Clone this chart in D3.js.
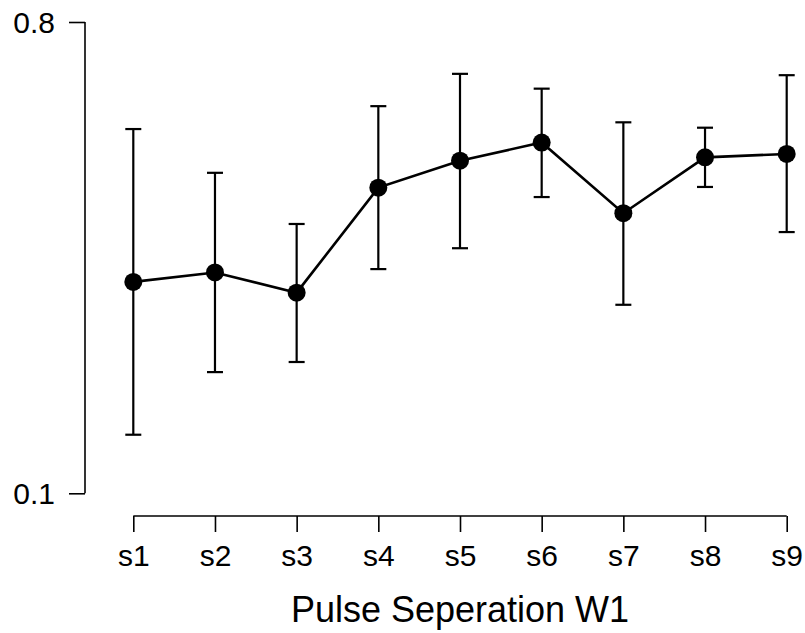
<!DOCTYPE html>
<html>
<head>
<meta charset="utf-8">
<script src="https://cdn.jsdelivr.net/npm/d3@7"></script>
<style>
  body { margin: 0; background: #fff; }
  text { font-family: "Liberation Sans", Arial, sans-serif; fill: #000; }
</style>
</head>
<body>
<div id="chart"></div>
<script>
// data
const categories = ['s1', 's2', 's3', 's4', 's5', 's6', 's7', 's8', 's9'];
const means = [0.414, 0.428, 0.398, 0.554, 0.594, 0.621, 0.516, 0.599, 0.604];
const upper = [0.641, 0.576, 0.500, 0.675, 0.723, 0.701, 0.651, 0.643, 0.721];
const lower = [0.187, 0.280, 0.295, 0.433, 0.464, 0.540, 0.380, 0.555, 0.488];
const yTicks = [0.1, 0.8];
const xTitle = 'Pulse Seperation W1';

const W = 805, H = 633;

let dataset = categories.map(function(c, i) {
    return {cat: c, y: means[i], hi: upper[i], lo: lower[i]};
});

let xScale = d3.scalePoint()
    .domain(categories)
    .range([133.3, 786.7]);

let yScale = d3.scaleLinear()
    .domain([0.1, 0.8])
    .range([493.3, 22]);

let svg = d3.select('#chart').append('svg')
    .attr('width', W)
    .attr('height', H);

// y axis
let yAxis = svg.append('g')
    .attr('transform', 'translate(85,0)')
    .call(d3.axisLeft(yScale).tickValues(yTicks).tickFormat(d3.format('.1f')).tickSize(16).tickPadding(14));
yAxis.select('.domain').attr('d', 'M0,' + yScale(0.1) + 'V' + yScale(0.8));
yAxis.selectAll('line, path').attr('stroke', '#000').attr('stroke-width', 1.6);
yAxis.selectAll('text').style('font-size', '30px').attr('dy', '0.35em');

// x axis
let xAxis = svg.append('g')
    .attr('transform', 'translate(0,516)')
    .call(d3.axisBottom(xScale).tickSize(16).tickPadding(13));
xAxis.select('.domain').attr('d', 'M' + xScale('s1') + ',0H' + xScale('s9'));
xAxis.selectAll('line, path').attr('stroke', '#000').attr('stroke-width', 1.6);
xAxis.selectAll('text').style('font-size', '30px');

svg.append('text')
    .attr('x', (xScale('s1') + xScale('s9')) / 2)
    .attr('y', 622)
    .attr('text-anchor', 'middle')
    .style('font-size', '36px')
    .text(xTitle);

// error bars
let bars = svg.selectAll('.err')
    .data(dataset)
    .enter().append('g')
    .attr('class', 'err')
    .attr('stroke', '#000')
    .attr('stroke-width', 2.2);

bars.append('line')
    .attr('x1', function(d) { return xScale(d.cat); })
    .attr('x2', function(d) { return xScale(d.cat); })
    .attr('y1', function(d) { return yScale(d.hi); })
    .attr('y2', function(d) { return yScale(d.lo); });

bars.selectAll('.cap')
    .data(function(d) { return [{cat: d.cat, v: d.hi}, {cat: d.cat, v: d.lo}]; })
    .enter().append('line')
    .attr('class', 'cap')
    .attr('x1', function(d) { return xScale(d.cat) - 8; })
    .attr('x2', function(d) { return xScale(d.cat) + 8; })
    .attr('y1', function(d) { return yScale(d.v); })
    .attr('y2', function(d) { return yScale(d.v); });

// line + dots
let line = d3.line()
    .x(function(d) { return xScale(d.cat); })
    .y(function(d) { return yScale(d.y); });

svg.append('path')
    .datum(dataset)
    .attr('fill', 'none')
    .attr('stroke', '#000')
    .attr('stroke-width', 2.6)
    .attr('d', line);

svg.selectAll('.dot')
    .data(dataset)
    .enter().append('circle')
    .attr('class', 'dot')
    .attr('cx', function(d) { return xScale(d.cat); })
    .attr('cy', function(d) { return yScale(d.y); })
    .attr('r', 9)
    .attr('fill', '#000');
</script>
</body>
</html>
